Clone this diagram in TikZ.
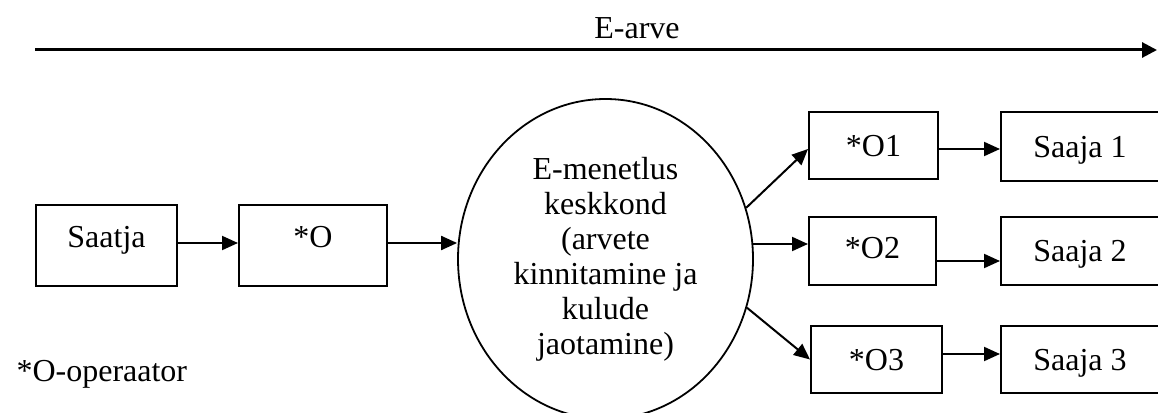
\documentclass[tikz,border=0pt]{standalone}
\usepackage{fontspec}
\setmainfont{Liberation Serif}
\usetikzlibrary{arrows.meta,shapes.geometric,calc}
\begin{document}
\begin{tikzpicture}[x=1pt,y=-1pt,
  font=\fontsize{32}{35}\selectfont,
  box/.style 2 args={draw, line width=2pt, rectangle, inner sep=0pt,
    minimum width=#1pt, minimum height=#2pt, text height=24pt, text depth=3pt},
  flow/.style={line width=2pt, -{Triangle[length=16pt,width=14pt]}},
  mainflow/.style={line width=3pt, -{Triangle[length=15pt,width=15pt]}}]
\useasboundingbox (0,0) rectangle (1158,412);

% overall invoice flow
\coordinate (start) at (35,50);
\coordinate (end) at (1157,50);
\draw[mainflow] (start) -- (end);
\node[anchor=base] (earve) at (637,39) {E-arve};

% sender side
\node[box={141}{81}, text depth=20pt] (saatja) at (106.5,245.5) {Saatja};
\node[box={148}{81}, text depth=20pt] (o) at (313,245.5) {*O};

% processing environment
\node[ellipse, draw, line width=1.8pt, minimum width=295pt, minimum height=320pt,
      inner sep=0pt, align=center] (emen) at (605.5,259)
  {E-menetlus\\keskkond\\(arvete\\kinnitamine ja\\kulude\\jaotamine)};

% operators
\node[box={129}{67}] (o1) at (873.5,145.5) {*O1};
\node[box={127}{68}, text depth=9pt] (o2) at (872.5,251) {*O2};
\node[box={131}{67}] (o3) at (876.5,359.5) {*O3};

% receivers
\node[box={158}{69}] (s1) at (1080,146.5) {Saaja 1};
\node[box={158}{68}] (s2) at (1080,251) {Saaja 2};
\node[box={158}{67}] (s3) at (1080,359.5) {Saaja 3};

\node[anchor=base west] (legend) at (13,381) {*O-operaator};

% connectors
\coordinate (sa) at ($(saatja.east)+(0,-2.5)$);
\draw[flow] (sa) -- (sa -| o.west);
\coordinate (oe) at ($(o.east)+(0,-2.5)$);
\draw[flow] (oe) -- (oe -| emen.west);

\draw[flow] (emen.20) -- ($(o1.west)+(0,3.5)$);
\coordinate (em) at ($(emen.center)+(147.5,-15)$);
\draw[flow] (em) -- (em -| o2.west);
\draw[flow] (emen.-19) -- (o3.west);

\coordinate (o1e) at ($(o1.east)+(0,3.5)$);
\draw[flow] (o1e) -- (o1e -| s1.west);
\coordinate (o2e) at ($(o2.east)+(0,10)$);
\draw[flow] (o2e) -- (o2e -| s2.west);
\coordinate (o3e) at ($(o3.east)+(0,-5.5)$);
\draw[flow] (o3e) -- (o3e -| s3.west);
\end{tikzpicture}
\end{document}
